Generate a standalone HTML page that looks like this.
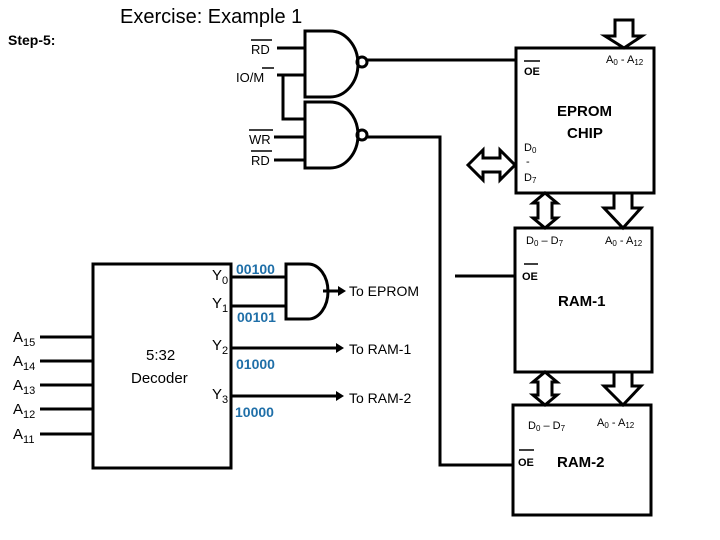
<html><body style="margin:0;background:#fff">
<svg width="720" height="540" viewBox="0 0 720 540" xmlns="http://www.w3.org/2000/svg" style="font-family:'Liberation Sans',sans-serif">
<g fill="none" stroke="#000" stroke-width="3">
<path d="M305 31 H330 A28 33 0 0 1 330 97 H305 Z"/>
<circle cx="362" cy="62" r="5"/>
<path d="M305 102 H330 A28 33 0 0 1 330 168 H305 Z"/>
<circle cx="362" cy="135" r="5"/>
<path d="M277 48 H305 M277 75 H305 M283 75 V119 H305 M274 137 H305 M274 160 H305"/>
<path d="M367 60 H516"/>
<path d="M367 137 H440 V465 H513"/>
<path d="M455 276 H515"/>
<rect x="516" y="48" width="138" height="145"/>
<rect x="515" y="228" width="137" height="144"/>
<rect x="513" y="405" width="138" height="110"/>
<rect x="93" y="264" width="138" height="204"/>
<path d="M40 337 H93 M40 361 H93 M40 385 H93 M40 409 H93 M40 434 H93"/>
<path d="M231 277 H286 M231 306 H286"/>
<path d="M286 264 H308 A20 27.5 0 0 1 308 319 H286 Z"/>
<path d="M323 291 H338 M231 348 H336 M231 396 H336"/>
<path d="M615 20 H633 V36 H642 L624 48 L605 36 H615 Z"/>
<path d="M614 193 H632 V208 H641 L623 228 L604 208 H614 Z"/>
<path d="M614 372 H632 V386 H641 L623 405 L604 386 H614 Z"/>
<path d="M545 193 L557 203 H552 V218 H557 L545 228 L533 218 H538 V203 H533 Z"/>
<path d="M545 372 L557 382 H552 V395 H557 L545 405 L533 395 H538 V382 H533 Z"/>
<path d="M468 165 L483 150 V158 H500 V150 L515 165 L500 180 V172 H483 V180 Z"/>
</g>
<g fill="#000">
<path d="M338 286 L346 291 L338 296 Z M336 343 L344 348 L336 353 Z M336 391 L344 396 L336 401 Z"/>
</g>
<g font-size="13" fill="#000">
<text x="8" y="45" font-weight="bold" font-size="14">Step-5:</text>
<text x="120" y="23" font-size="20">Exercise: Example 1</text>
<text x="251" y="54">RD</text><line x1="251" y1="40" x2="272" y2="40" stroke="#000" stroke-width="1.5"/>
<text x="236" y="82">IO/M</text><line x1="262" y1="68" x2="274" y2="68" stroke="#000" stroke-width="1.5"/>
<text x="249" y="144">WR</text><line x1="249" y1="130" x2="273" y2="130" stroke="#000" stroke-width="1.5"/>
<text x="251" y="165">RD</text><line x1="251" y1="151" x2="272" y2="151" stroke="#000" stroke-width="1.5"/>
<text x="146" y="360" font-size="15">5:32</text>
<text x="131" y="383" font-size="15">Decoder</text>
<g font-size="15">
<text x="13" y="342">A<tspan font-size="11" dy="4">15</tspan></text>
<text x="13" y="366">A<tspan font-size="11" dy="4">14</tspan></text>
<text x="13" y="390">A<tspan font-size="11" dy="4">13</tspan></text>
<text x="13" y="414">A<tspan font-size="11" dy="4">12</tspan></text>
<text x="13" y="439">A<tspan font-size="11" dy="4">11</tspan></text>
<text x="212" y="280">Y<tspan font-size="11" dy="4">0</tspan></text>
<text x="212" y="308">Y<tspan font-size="11" dy="4">1</tspan></text>
<text x="212" y="350">Y<tspan font-size="11" dy="4">2</tspan></text>
<text x="212" y="399">Y<tspan font-size="11" dy="4">3</tspan></text>
</g>
<g fill="#1f6fa8" font-weight="bold" font-size="14">
<text x="236" y="274">00100</text>
<text x="237" y="322">00101</text>
<text x="236" y="369">01000</text>
<text x="235" y="417">10000</text>
</g>
<text x="349" y="296" font-size="14">To EPROM</text>
<text x="349" y="354" font-size="14">To RAM-1</text>
<text x="349" y="403" font-size="14">To RAM-2</text>
<g font-size="11">
<text x="524" y="75" font-weight="bold">OE</text><line x1="524" y1="61" x2="540" y2="61" stroke="#000" stroke-width="1.5"/>
<text x="606" y="63">A<tspan font-size="8" dy="2">0</tspan><tspan dy="-2"> - A</tspan><tspan font-size="8" dy="2">12</tspan></text>
<text x="524" y="151">D<tspan font-size="8" dy="2">0</tspan></text>
<text x="526" y="165">-</text>
<text x="524" y="181">D<tspan font-size="8" dy="2">7</tspan></text>
<text x="526" y="244">D<tspan font-size="8" dy="2">0</tspan><tspan dy="-2"> – D</tspan><tspan font-size="8" dy="2">7</tspan></text>
<text x="605" y="244">A<tspan font-size="8" dy="2">0</tspan><tspan dy="-2"> - A</tspan><tspan font-size="8" dy="2">12</tspan></text>
<text x="522" y="280" font-weight="bold">OE</text><line x1="524" y1="264" x2="538" y2="264" stroke="#000" stroke-width="1.5"/>
<text x="528" y="429">D<tspan font-size="8" dy="2">0</tspan><tspan dy="-2"> – D</tspan><tspan font-size="8" dy="2">7</tspan></text>
<text x="597" y="426">A<tspan font-size="8" dy="2">0</tspan><tspan dy="-2"> - A</tspan><tspan font-size="8" dy="2">12</tspan></text>
<text x="518" y="466" font-weight="bold">OE</text><line x1="519" y1="450" x2="534" y2="450" stroke="#000" stroke-width="1.5"/>
</g>
<g font-weight="bold" font-size="15">
<text x="557" y="116">EPROM</text>
<text x="567" y="138">CHIP</text>
<text x="558" y="306">RAM-1</text>
<text x="557" y="467">RAM-2</text>
</g>
</g>
</svg>
</body></html>
